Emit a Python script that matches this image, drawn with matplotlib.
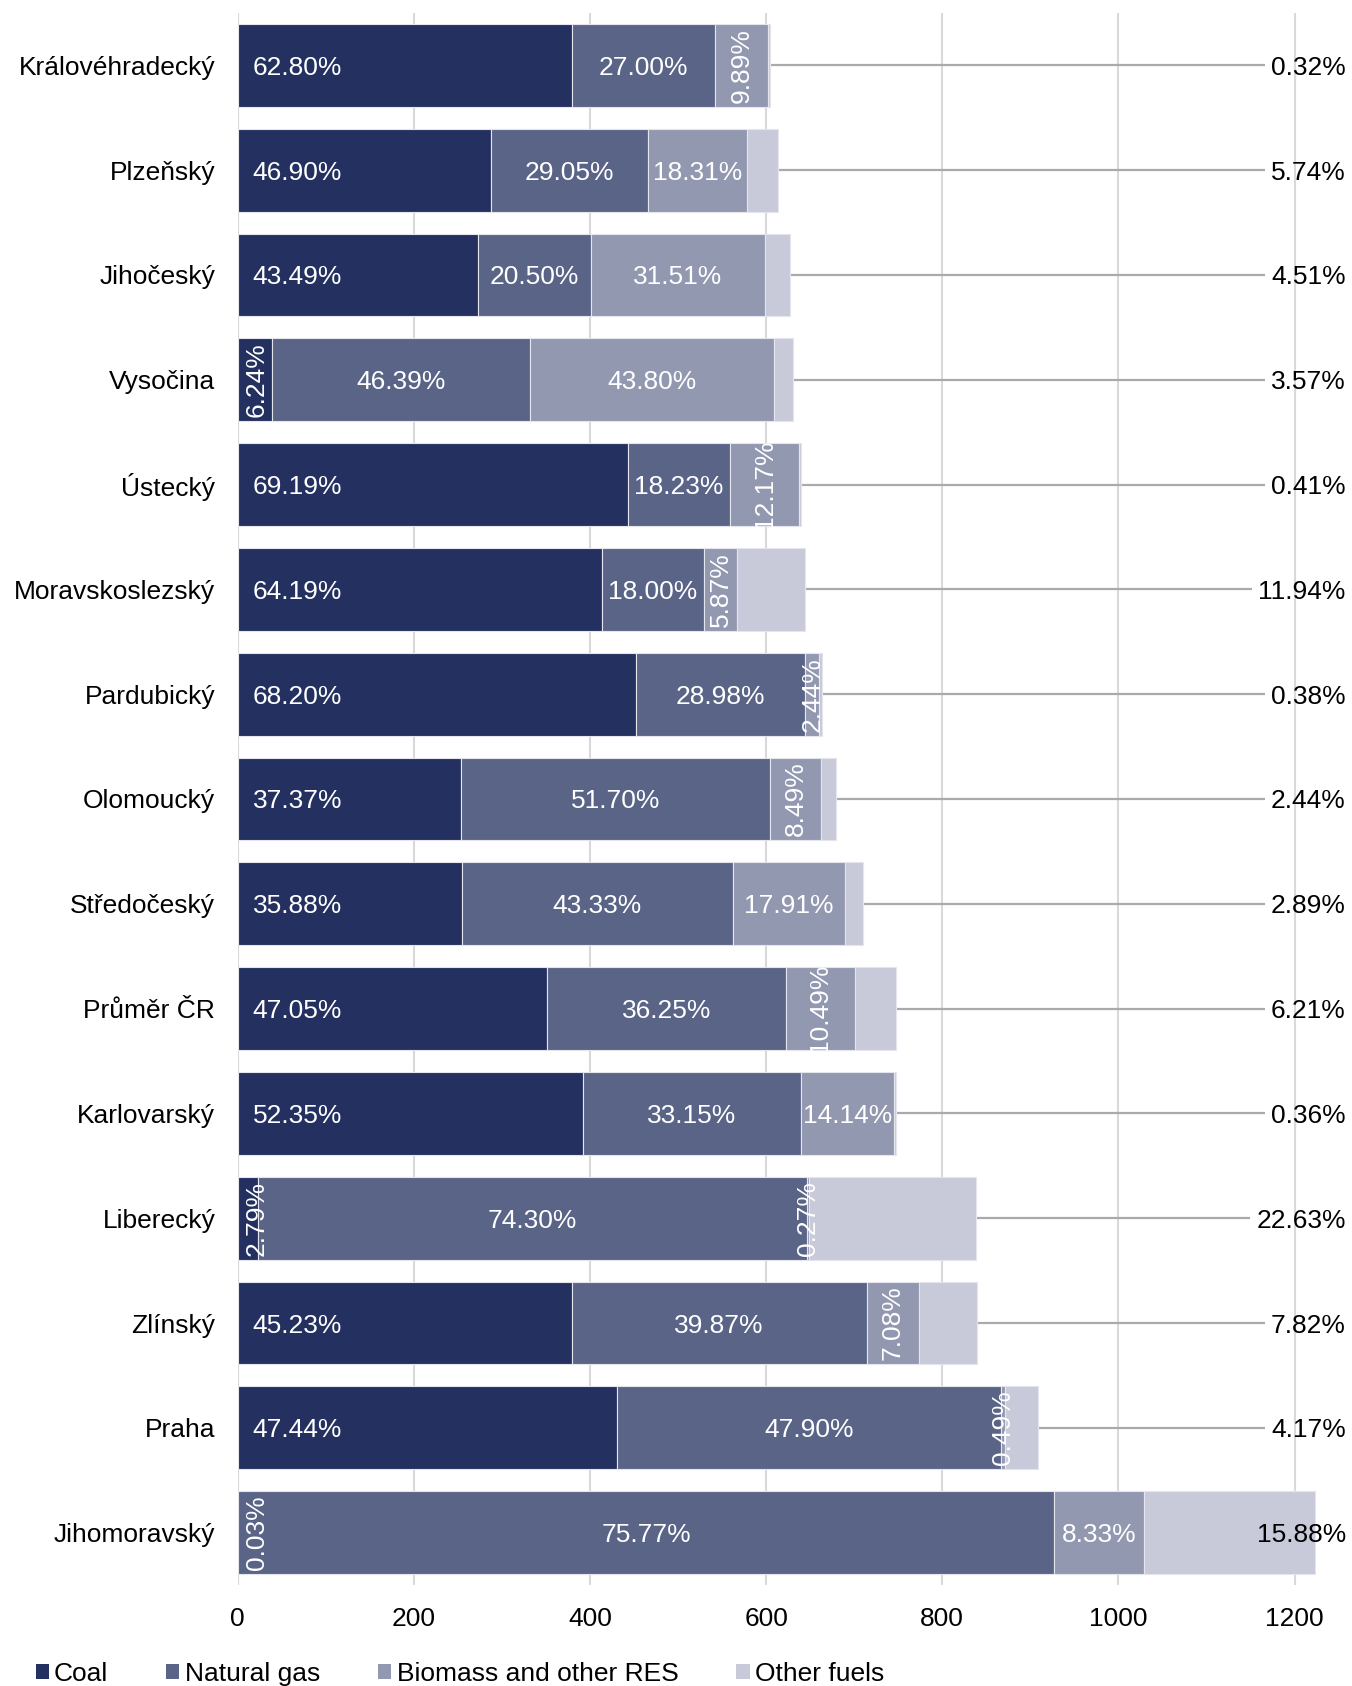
import matplotlib
matplotlib.use("Agg")
import matplotlib.pyplot as plt
from matplotlib.patches import Patch
import numpy as np

plt.rcParams['font.family'] = ['Liberation Sans', 'DejaVu Sans']

# --- Data: regions sorted by total, shares of each fuel in percent ---
regions = ['Královéhradecký', 'Plzeňský', 'Jihočeský', 'Vysočina', 'Ústecký',
           'Moravskoslezský', 'Pardubický', 'Olomoucký', 'Středočeský', 'Průměr ČR',
           'Karlovarský', 'Liberecký', 'Zlínský', 'Praha', 'Jihomoravský']
totals = [604, 614, 627, 631, 640, 644, 663, 679, 710, 747, 748, 838, 839, 909, 1223]
coal = [62.80, 46.90, 43.49, 6.24, 69.19, 64.19, 68.20, 37.37, 35.88, 47.05,
        52.35, 2.79, 45.23, 47.44, 0.03]
natural_gas = [27.00, 29.05, 20.50, 46.39, 18.23, 18.00, 28.98, 51.70, 43.33, 36.25,
               33.15, 74.30, 39.87, 47.90, 75.77]
biomass = [9.89, 18.31, 31.51, 43.80, 12.17, 5.87, 2.44, 8.49, 17.91, 10.49,
           14.14, 0.27, 7.08, 0.49, 8.33]
other_fuels = [0.32, 5.74, 4.51, 3.57, 0.41, 11.94, 0.38, 2.44, 2.89, 6.21,
               0.36, 22.63, 7.82, 4.17, 15.88]
x_ticks = [0, 200, 400, 600, 800, 1000, 1200]

series_names = ['Coal', 'Natural gas', 'Biomass and other RES', 'Other fuels']
colors = ['#243160', '#5a6487', '#9398b1', '#c8cad9']
FS = 19

fig = plt.figure(figsize=(13.52, 16.86), dpi=100)
ax = fig.add_axes([0.1757, 0.0599, 0.8210, 0.9324])

y = np.arange(len(regions))
totals = np.array(totals, dtype=float)
shares = np.array([coal, natural_gas, biomass, other_fuels])
left = np.zeros(len(regions))

for k in range(4):
    widths = totals * shares[k] / 100
    ax.barh(y, widths, left=left, height=0.79, color=colors[k],
            edgecolor='#e4e5ed', linewidth=0.8, zorder=2)
    if k < 3:
        for i in range(len(regions)):
            w, x0 = widths[i], left[i]
            txt = f'{shares[k][i]:.2f}%'
            if w < 90:
                # narrow segment -> vertical label
                xc = max(x0 + w / 2, 22) if k == 0 else x0 + w / 2
                ax.text(xc, y[i], txt, rotation=90, ha='center', va='center',
                        color='white', fontsize=FS, zorder=4)
            elif k == 0:
                ax.text(17, y[i], txt, ha='left', va='center_baseline',
                        color='white', fontsize=FS, zorder=4)
            else:
                ax.text(x0 + w / 2, y[i], txt, ha='center', va='center_baseline',
                        color='white', fontsize=FS, zorder=4)
    left += widths

# other fuels labels sit at the right edge, joined to the bar by a leader line
label_x = 1258
other_texts = []
for i in range(len(regions)):
    t = ax.text(label_x, y[i], f'{other_fuels[i]:.2f}%', ha='right',
                va='center_baseline', color='black', fontsize=FS, zorder=4,
                clip_on=False)
    other_texts.append(t)

ax.set_xlim(0, 1260)
ax.set_ylim(len(regions) - 0.5, -0.5)
ax.set_xticks(x_ticks)
ax.set_yticks(y)
ax.set_yticklabels(regions, va='center_baseline')
ax.tick_params(length=0, pad=16, labelsize=FS, colors='black')
ax.xaxis.grid(True, color='#d9d9d9', linewidth=1.5)
ax.set_axisbelow(True)
for s in ax.spines.values():
    s.set_visible(False)

fig.canvas.draw()
renderer = fig.canvas.get_renderer()
inv = ax.transData.inverted()
for i, t in enumerate(other_texts):
    bb = t.get_window_extent(renderer)
    x_end = inv.transform((bb.x0 - 6, 0))[0]
    if x_end > totals[i]:
        ax.plot([totals[i], x_end], [y[i], y[i]], color='#aaaaaa',
                linewidth=1.6, zorder=1.5, solid_capstyle='butt')

handles = [Patch(facecolor=c, edgecolor='none') for c in colors]
fig.legend(handles, series_names, loc='center left',
           bbox_to_anchor=(35.5 / 1352, 1 - 1674 / 1686), ncol=4, frameon=False,
           fontsize=FS, handlelength=0.5, handleheight=0.5, handletextpad=0.2,
           columnspacing=2.2, borderpad=0, borderaxespad=0)

fig.savefig('out.png', dpi=100)
